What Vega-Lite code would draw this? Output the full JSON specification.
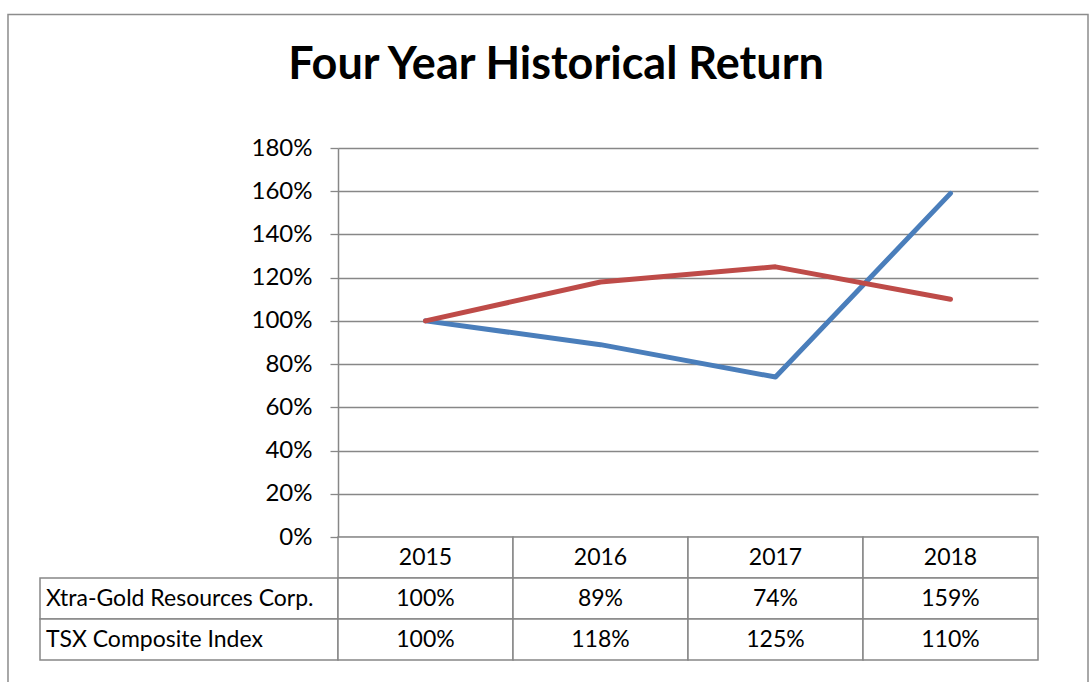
{
  "$schema": "https://vega.github.io/schema/vega-lite/v6.json",
  "background": "white",
  "padding": {"left": 7, "top": 13, "right": 0, "bottom": 0},
  "title": {
    "text": "Four Year Historical Return",
    "font": "Lato",
    "fontSize": 45,
    "fontWeight": "bold",
    "color": "black",
    "anchor": "middle",
    "baseline": "alphabetic",
    "offset": -110,
    "dx": 8
  },
  "datasets": {
    "returns": [
      {"year": "2015", "series": "Xtra-Gold Resources Corp.", "value": 1.00},
      {"year": "2016", "series": "Xtra-Gold Resources Corp.", "value": 0.89},
      {"year": "2017", "series": "Xtra-Gold Resources Corp.", "value": 0.74},
      {"year": "2018", "series": "Xtra-Gold Resources Corp.", "value": 1.59},
      {"year": "2015", "series": "TSX Composite Index", "value": 1.00},
      {"year": "2016", "series": "TSX Composite Index", "value": 1.18},
      {"year": "2017", "series": "TSX Composite Index", "value": 1.25},
      {"year": "2018", "series": "TSX Composite Index", "value": 1.10}
    ],
    "years": [{"year": "2015"}, {"year": "2016"}, {"year": "2017"}, {"year": "2018"}],
    "seriesNames": [{"series": "Xtra-Gold Resources Corp."}, {"series": "TSX Composite Index"}]
  },
  "columns": 2,
  "spacing": 0,
  "bounds": "flush",
  "concat": [
    {
      "width": 298,
      "height": 389,
      "data": {"values": [{"frame": "chart area"}]},
      "mark": {"type": "rect", "fill": "white", "fillOpacity": 0, "stroke": "#8c8c8c", "strokeWidth": 1.5},
      "encoding": {
        "x": {"datum": -0.1074, "type": "quantitative", "scale": {"domain": [0, 1], "nice": false, "zero": false}, "axis": null},
        "x2": {"datum": 3.5168},
        "y": {"datum": 1.3432, "type": "quantitative", "scale": {"domain": [0, 1], "nice": false, "zero": false}, "axis": null},
        "y2": {"datum": -0.42}
      }
    },
    {
      "width": 700,
      "height": 389,
      "data": {"name": "returns"},
      "mark": {"type": "line", "strokeWidth": 5, "strokeCap": "round", "strokeJoin": "round"},
      "encoding": {
        "x": {"field": "year", "type": "ordinal", "scale": {"type": "point", "padding": 0.5}, "axis": null},
        "y": {
          "field": "value",
          "type": "quantitative",
          "scale": {"domain": [0, 1.8], "nice": false, "zero": true},
          "axis": {
            "values": [0, 0.2, 0.4, 0.6, 0.8, 1.0, 1.2, 1.4, 1.6, 1.8],
            "format": ".0%",
            "title": null,
            "grid": true,
            "gridColor": "#878787",
            "gridWidth": 1.3,
            "gridOpacity": 1,
            "domainColor": "#878787",
            "domainWidth": 1.5,
            "tickColor": "#878787",
            "tickSize": 8,
            "tickWidth": 1.3,
            "labelFont": "Lato",
            "labelFontSize": 24,
            "labelColor": "black",
            "labelPadding": 18
          }
        },
        "color": {
          "field": "series",
          "type": "nominal",
          "scale": {"domain": ["Xtra-Gold Resources Corp.", "TSX Composite Index"], "range": ["#4A7EBB", "#BE4B48"]},
          "legend": null
        }
      }
    },
    {
      "width": 298,
      "height": 123,
      "data": {"name": "seriesNames"},
      "layer": [
        {
          "mark": {"type": "rect", "fill": "white", "stroke": "#878787", "strokeWidth": 1.5},
          "encoding": {
            "x": {"datum": "Series", "type": "nominal", "scale": {"type": "band", "paddingInner": 0, "paddingOuter": 0}, "axis": null},
            "y": {"field": "series", "type": "nominal", "scale": {"type": "band", "domain": ["Year", "Xtra-Gold Resources Corp.", "TSX Composite Index"], "paddingInner": 0, "paddingOuter": 0}, "axis": null}
          }
        },
        {
          "mark": {"type": "text", "align": "left", "baseline": "middle", "dx": 6, "font": "Lato", "fontSize": 23, "color": "black"},
          "encoding": {
            "x": {"datum": "Series", "type": "nominal", "bandPosition": 0, "scale": {"type": "band", "paddingInner": 0, "paddingOuter": 0}, "axis": null},
            "y": {"field": "series", "type": "nominal", "bandPosition": 0.5, "scale": {"type": "band", "domain": ["Year", "Xtra-Gold Resources Corp.", "TSX Composite Index"], "paddingInner": 0, "paddingOuter": 0}, "axis": null},
            "text": {"field": "series"}
          }
        }
      ]
    },
    {
      "width": 700,
      "height": 123,
      "encoding": {
        "x": {"field": "year", "type": "ordinal", "scale": {"type": "band", "paddingInner": 0, "paddingOuter": 0}, "axis": null}
      },
      "layer": [
        {
          "data": {"name": "years"},
          "mark": {"type": "rect", "fill": "white", "stroke": "#878787", "strokeWidth": 1.5},
          "encoding": {
            "y": {"datum": "Year", "type": "nominal", "scale": {"type": "band", "domain": ["Year", "Xtra-Gold Resources Corp.", "TSX Composite Index"], "paddingInner": 0, "paddingOuter": 0}, "axis": null}
          }
        },
        {
          "data": {"name": "returns"},
          "mark": {"type": "rect", "fill": "white", "stroke": "#878787", "strokeWidth": 1.5},
          "encoding": {
            "y": {"field": "series", "type": "nominal", "scale": {"type": "band", "domain": ["Year", "Xtra-Gold Resources Corp.", "TSX Composite Index"], "paddingInner": 0, "paddingOuter": 0}, "axis": null}
          }
        },
        {
          "data": {"name": "years"},
          "mark": {"type": "text", "baseline": "middle", "align": "center", "font": "Lato", "fontSize": 23, "color": "black"},
          "encoding": {
            "x": {"field": "year", "type": "ordinal", "bandPosition": 0.5},
            "y": {"datum": "Year", "type": "nominal", "bandPosition": 0.5, "scale": {"type": "band", "domain": ["Year", "Xtra-Gold Resources Corp.", "TSX Composite Index"], "paddingInner": 0, "paddingOuter": 0}, "axis": null},
            "text": {"field": "year"}
          }
        },
        {
          "data": {"name": "returns"},
          "mark": {"type": "text", "baseline": "middle", "align": "center", "font": "Lato", "fontSize": 23, "color": "black"},
          "encoding": {
            "x": {"field": "year", "type": "ordinal", "bandPosition": 0.5},
            "y": {"field": "series", "type": "nominal", "bandPosition": 0.5, "scale": {"type": "band", "domain": ["Year", "Xtra-Gold Resources Corp.", "TSX Composite Index"], "paddingInner": 0, "paddingOuter": 0}, "axis": null},
            "text": {"field": "value", "format": ".0%"}
          }
        }
      ]
    }
  ],
  "config": {
    "view": {"stroke": null},
    "font": "Lato"
  }
}
